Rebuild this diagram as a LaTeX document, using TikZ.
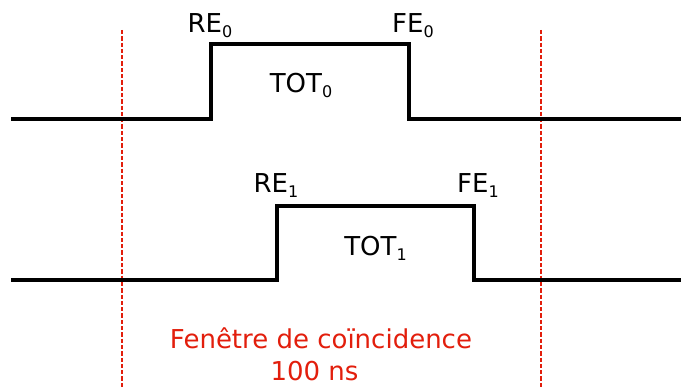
\documentclass[tikz,border=0pt]{standalone}
\usepackage{fontspec}
\setmainfont{DejaVu Sans}
\definecolor{winred}{RGB}{226,30,12}
\newcommand{\sub}[1]{\raisebox{-4.5pt}{\fontsize{16}{16}\selectfont #1}}
\begin{document}
\begin{tikzpicture}[x=1pt,y=-1pt,
  signal/.style={line width=3.2pt,line join=miter},
  window/.style={winred,line width=1.6pt,dash pattern=on 4.3pt off 2pt},
  lbl/.style={anchor=base,inner sep=0pt,font=\fontsize{26}{26}\selectfont},
  redlbl/.style={lbl,text=winred}]
\useasboundingbox (0,0) rectangle (681,387);
% window boundaries
\coordinate (w1t) at (122,30);
\coordinate (w1b) at (122,387);
\coordinate (w2t) at (541,30);
\coordinate (w2b) at (541,387);
\draw[window] (w1t) -- (w1b);
\draw[window] (w2t) -- (w2b);
% signal 0
\coordinate (s0a) at (11,119);
\coordinate (s0r) at (211,119);
\coordinate (s0rh) at (211,44);
\coordinate (s0fh) at (409,44);
\coordinate (s0f) at (409,119);
\coordinate (s0e) at (681,119);
\draw[signal] (s0a) -- (s0r) -- (s0rh) -- (s0fh) -- (s0f) -- (s0e);
% signal 1
\coordinate (s1a) at (11,280);
\coordinate (s1r) at (277,280);
\coordinate (s1rh) at (277,206);
\coordinate (s1fh) at (474,206);
\coordinate (s1f) at (474,280);
\coordinate (s1e) at (681,280);
\draw[signal] (s1a) -- (s1r) -- (s1rh) -- (s1fh) -- (s1f) -- (s1e);
% labels
\node[lbl] (re0) at (210,33) {RE\sub{0}};
\node[lbl] (fe0) at (413,33) {FE\sub{0}};
\node[lbl] (tot0) at (301,93) {TOT\sub{0}};
\node[lbl] (re1) at (276,193) {RE\sub{1}};
\node[lbl] (fe1) at (478,193) {FE\sub{1}};
\node[lbl] (tot1) at (375.5,256) {TOT\sub{1}};
\node[redlbl] (win) at (321,349) {Fenêtre de coïncidence};
\node[redlbl] (dur) at (314.5,381) {100 ns};
\end{tikzpicture}
\end{document}
